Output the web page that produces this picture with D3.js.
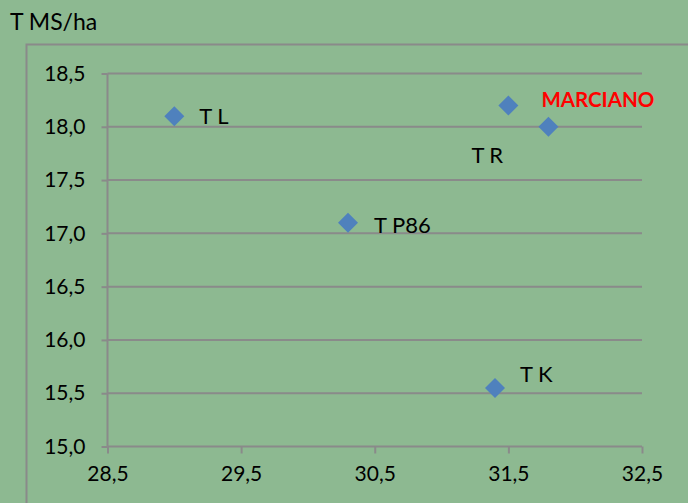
<!DOCTYPE html>
<html>
<head>
<meta charset="utf-8">
<script src="https://cdn.jsdelivr.net/npm/d3@7"></script>
<style>
  html, body { margin: 0; padding: 0; background: #8db991; }
  svg { display: block; font-family: Lato, "Open Sans", sans-serif; }
</style>
</head>
<body>
<svg></svg>
<script>
// data
const names = ['T L', 'T P86', 'T R', 'MARCIANO', 'T K']
const xValues = [29.0, 30.3, 31.5, 31.8, 31.4]
const yValues = [18.1, 17.1, 18.2, 18.0, 15.55]
const labelColors = ['#000', '#000', '#000', '#ff0000', '#000']
const labelOffsets = [[25, 8], [26, 10], [-37, 58], [-7, -20], [25, -6]]
const xTicks = [28.5, 29.5, 30.5, 31.5, 32.5]
const yTicks = [15.0, 15.5, 16.0, 16.5, 17.0, 17.5, 18.0, 18.5]
const yTitle = 'T MS/ha'

const width = 688
const height = 503
const margin = {left: 107.5, right: 46, top: 73.5, bottom: 56.5}
const svg = d3.select('svg').attr('width', width).attr('height', height)

const fmt = v => d3.format('.1f')(v).replace('.', ',')

const xScale = d3.scaleLinear()
    .domain([28.5, 32.5])
    .range([margin.left, width - margin.right])
const yScale = d3.scaleLinear()
    .domain([15, 18.5])
    .range([height - margin.bottom, margin.top])

// outer frame
svg.append('rect')
    .attr('x', 26.5).attr('y', 44.5)
    .attr('width', 700).attr('height', 500)
    .attr('fill', 'none')
    .attr('stroke', '#8a8a8a')
    .attr('stroke-width', 2)

// horizontal gridlines
svg.append('g')
    .selectAll('line')
    .data(yTicks.slice(1))
    .enter()
    .append('line')
    .attr('x1', xScale(28.5)).attr('x2', xScale(32.5))
    .attr('y1', d => yScale(d)).attr('y2', d => yScale(d))
    .attr('stroke', '#8a8a8a')
    .attr('stroke-width', 2)

const xAxis = d3.axisBottom(xScale)
    .tickValues(xTicks)
    .tickFormat(fmt)
    .tickSize(7)
    .tickPadding(13)
const yAxis = d3.axisLeft(yScale)
    .tickValues(yTicks)
    .tickFormat(fmt)
    .tickSize(6)
    .tickPadding(16)

const gx = svg.append('g')
    .attr('transform', 'translate(0,' + yScale(15) + ')')
    .call(xAxis)
const gy = svg.append('g')
    .attr('transform', 'translate(' + xScale(28.5) + ',0)')
    .call(yAxis)

;[gx, gy].forEach(g => {
    g.selectAll('path, line').attr('stroke', '#8a8a8a').attr('stroke-width', 2)
    g.select('.domain').attr('d', g === gx
        ? 'M' + xScale(28.5) + ',0H' + xScale(32.5)
        : 'M0,' + yScale(15) + 'V' + yScale(18.5))
    g.selectAll('text')
        .attr('fill', '#000')
        .style('font-size', '21px')
        .style('font-family', 'Lato, "Open Sans", sans-serif')
})

// points
const points = names.map((n, i) => ({name: n, x: xValues[i], y: yValues[i], color: labelColors[i], off: labelOffsets[i]}))

svg.append('g')
    .selectAll('path')
    .data(points)
    .enter()
    .append('path')
    .attr('d', 'M0,-10L10,0L0,10L-10,0Z')
    .attr('transform', d => 'translate(' + xScale(d.x) + ',' + yScale(d.y) + ')')
    .attr('fill', '#4f81bd')

svg.append('g')
    .selectAll('text')
    .data(points)
    .enter()
    .append('text')
    .attr('x', d => xScale(d.x) + d.off[0])
    .attr('y', d => yScale(d.y) + d.off[1])
    .attr('fill', d => d.color)
    .style('font-size', d => d.name === 'MARCIANO' ? '20.5px' : '22px')
    .style('font-weight', d => d.name === 'MARCIANO' ? 'bold' : 'normal')
    .text(d => d.name)

svg.append('text')
    .attr('x', 10)
    .attr('y', 30)
    .style('font-size', '23px')
    .attr('fill', '#000')
    .text(yTitle)
</script>
</body>
</html>
